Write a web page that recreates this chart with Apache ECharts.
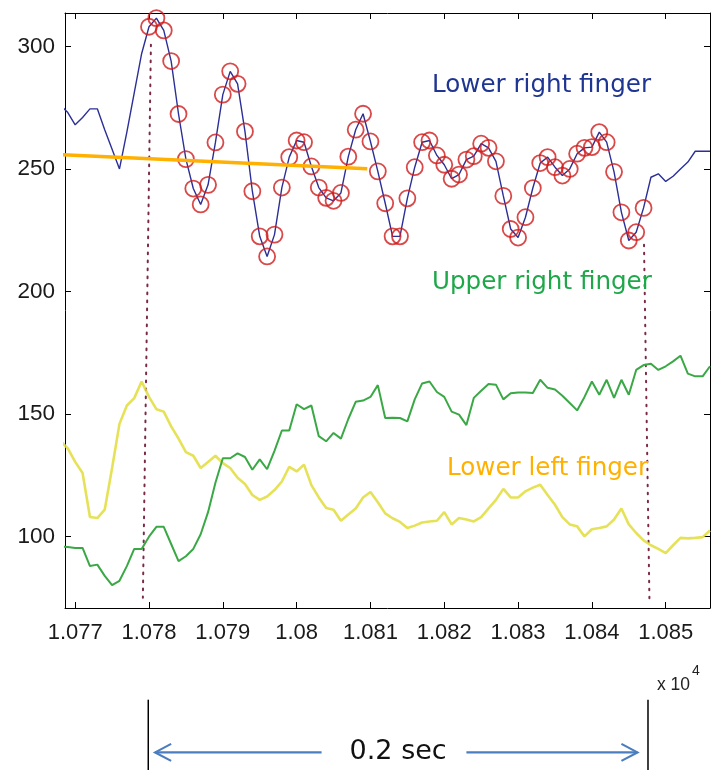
<!DOCTYPE html>
<html>
<head>
<meta charset="utf-8">
<script src="https://cdn.jsdelivr.net/npm/echarts@6/dist/echarts.min.js"></script>
<style>
  html, body { margin: 0; padding: 0; background: #ffffff; }
  #chart { width: 717px; height: 770px; }
</style>
</head>
<body>
<div id="chart"></div>
<script>
// Finger pressure traces, one sample per time step starting at sampleStart
const sampleStart = 10768;

const lowerRight = [276, 273, 268, 271, 274.5, 274.5, 266, 258, 250, 265, 281, 297,
  308, 311.5, 306.5, 294, 272.4, 254, 242, 235.5, 243.5, 260.8, 280.3, 289.8, 284.7,
  265.3, 240.9, 222.5, 214.3, 223.2, 242.4, 254.8, 261.6, 260.9, 251, 242.4, 238.2,
  237, 240.2, 255, 266, 272.5, 261.2, 249, 236, 222.5, 222.5, 238, 250.7, 260.9, 261.6,
  255.5, 251.7, 246, 247.7, 253.8, 255.2, 260.3, 258.6, 253.1, 239, 225.5, 222, 230.3,
  242.2, 252.4, 254.8, 250.7, 247.3, 250, 256.2, 258.6, 258.9, 265, 260.9, 248.8,
  232.3, 220.8, 224.2, 234.1, 246.6, 248, 244.9, 247, 250, 252.8, 257.2, 257.2, 257.2];

const upperRight = [96, 95.8, 95.4, 95.4, 88, 88.6, 84, 80.2, 82, 88, 95, 95, 100, 104,
  104, 97, 90, 92, 95, 101, 110, 122, 132, 132, 134, 132.5, 127.3, 131.5, 127.5, 135,
  143.3, 143.3, 154, 152, 153.5, 141, 138.9, 142.3, 140, 148, 155, 155.5, 157, 161.8,
  148.4, 148.5, 148.4, 147, 156, 162.5, 163.3, 159, 157, 151, 149.8, 145.5, 156.6,
  159.5, 162.3, 162, 156, 158.5, 158.8, 158.8, 158.6, 164, 160.7, 160, 157.5, 154.5,
  151.5, 157, 163.3, 157.9, 164, 156.6, 164, 157.9, 168, 170, 170.5, 168, 169.5, 171.5,
  173.8, 166.5, 165.4, 165.4, 169.5];

const lowerLeft = [139, 136, 130.5, 126, 108, 107.6, 111, 128, 146, 153.5, 156.5, 163.3,
  157, 152, 151, 145, 140, 134.5, 133, 128, 130.5, 133, 130, 128, 124, 121.5, 117, 115,
  116.4, 119, 122.5, 128.5, 126.6, 129.4, 121, 116, 111.7, 111, 106.5, 109, 111.5, 116,
  118.2, 114, 109.5, 107.5, 106, 103.5, 104.5, 105.8, 106.2, 106.5, 110, 105, 107.6,
  107, 106.2, 108, 111.5, 115, 119.5, 116, 116, 118.5, 120, 121.2, 117, 113, 108, 105,
  104.2, 100.1, 103, 103.5, 104.2, 107, 111.5, 105, 101.5, 98.5, 96.5, 95, 93.3, 96.5,
  99.5, 99.3, 99.5, 99.8, 102.5];

// Samples of the lower right finger that are ringed
const ringedFrom = 10780;
const ringedTo = 10847;

// Axis ranges and tick positions
const xRange = [10768.62, 10856];
const yRange = [70.9, 313.6];
const xTicks = [10770, 10780, 10790, 10800, 10810, 10820, 10830, 10840, 10850];
const yTicks = [100, 150, 200, 250, 300];

// Dotted window markers (start / end of the marked interval)
const windowStart = [[10780.26, 300.7], [10779.17, 75.1]];
const windowEnd = [[10847.06, 219.1], [10847.8, 73.1]];

// Trend line drawn across the lower right finger trace
const trendLine = [[10759.78, 257], [10809.57, 250.1]];

// Interval bracket below the axis: bracket x positions, bracket y span, arrow level
const bracketX = [10779.9, 10847.6];
const bracketY = [33.5, 4];
const arrowY = 12;
const arrowLeft = [10780.83, 10803.38];
const arrowRight = [10823.0, 10846.17];

const toPairs = (vals) => vals.map((v, i) => [sampleStart + i, v]);
const ringed = toPairs(lowerRight).filter(p => p[0] >= ringedFrom && p[0] <= ringedTo);

const tickFont = "'Liberation Sans', Arial, sans-serif";
const noteFont = "'DejaVu Sans', 'Noto Sans', sans-serif";

const chart = echarts.init(document.getElementById('chart'), null, { renderer: 'canvas' });

const axisLineStyle = { color: '#000', width: 1 };
const option = {
  animation: false,
  backgroundColor: '#ffffff',
  grid: { left: 65, top: 13, right: 7, bottom: 162 },
  xAxis: [
    {
      type: 'value', position: 'bottom', min: xRange[0], max: xRange[1],
      axisLine: { show: true, onZero: false, lineStyle: axisLineStyle },
      axisTick: { show: true, inside: true, length: 6, customValues: xTicks, lineStyle: axisLineStyle },
      axisLabel: {
        show: true, customValues: xTicks, margin: 14,
        formatter: v => String(+(v / 1e4).toFixed(4)),
        fontFamily: tickFont, fontSize: 22, color: '#1a1a1a'
      },
      splitLine: { show: false }
    },
    {
      type: 'value', position: 'top', min: xRange[0], max: xRange[1],
      axisLine: { show: true, onZero: false, lineStyle: axisLineStyle },
      axisTick: { show: true, inside: true, length: 6, customValues: xTicks, lineStyle: axisLineStyle },
      axisLabel: { show: false },
      splitLine: { show: false }
    }
  ],
  yAxis: [
    {
      type: 'value', position: 'left', min: yRange[0], max: yRange[1],
      axisLine: { show: true, onZero: false, lineStyle: axisLineStyle },
      axisTick: { show: true, inside: true, length: 6, customValues: yTicks, lineStyle: axisLineStyle },
      axisLabel: {
        show: true, customValues: yTicks, margin: 10,
        fontFamily: tickFont, fontSize: 22.5, color: '#1a1a1a'
      },
      splitLine: { show: false }
    },
    {
      type: 'value', position: 'right', min: yRange[0], max: yRange[1],
      axisLine: { show: true, onZero: false, lineStyle: axisLineStyle },
      axisTick: { show: true, inside: true, length: 6, customValues: yTicks, lineStyle: axisLineStyle },
      axisLabel: { show: false },
      splitLine: { show: false }
    }
  ],
  series: [
    {
      name: 'window start', type: 'line', data: windowStart, symbol: 'none',
      lineStyle: { color: '#7a2a44', width: 2, type: [1.6, 6.4], cap: 'round' }, z: 1, silent: true
    },
    {
      name: 'window end', type: 'line', data: windowEnd, symbol: 'none',
      lineStyle: { color: '#7a2a44', width: 2, type: [1.6, 6.4], cap: 'round' }, z: 1, silent: true
    },
    {
      name: 'Lower left finger', type: 'line', data: toPairs(lowerLeft), symbol: 'none',
      lineStyle: { color: '#e2dd3a', width: 2.6, opacity: 0.85 }, z: 2
    },
    {
      name: 'Upper right finger', type: 'line', data: toPairs(upperRight), symbol: 'none',
      lineStyle: { color: '#3aa845', width: 2 }, z: 3
    },
    {
      name: 'Lower right finger', type: 'line', data: toPairs(lowerRight), symbol: 'none',
      lineStyle: { color: '#2b2f96', width: 1.4 }, z: 4
    },
    {
      name: 'ringed samples', type: 'scatter', data: ringed, symbol: 'circle', symbolSize: 16,
      itemStyle: { color: 'rgba(0,0,0,0)', borderColor: '#cf1c1c', borderWidth: 1.8 }, z: 5,
      emphasis: { disabled: true }
    },
    {
      name: 'trend', type: 'line', data: trendLine, symbol: 'none', clip: false,
      lineStyle: { color: '#ffb000', width: 3.5 }, z: 6
    }
  ],
  graphic: [
    { type: 'text', left: 432, top: 73, z: 10,
      style: { text: 'Lower right finger', fill: '#1f3592', font: '24.6px ' + noteFont } },
    { type: 'text', left: 432, top: 270, z: 10,
      style: { text: 'Upper right finger', fill: '#1fa84a', font: '24.6px ' + noteFont } },
    { type: 'text', left: 447, top: 456, z: 10,
      style: { text: 'Lower left finger', fill: '#ffb000', font: '24.6px ' + noteFont } }
  ]
};
chart.setOption(option);

// Bracket, arrows and unit note placed from axis coordinates
const px = (x, y) => chart.convertToPixel({ xAxisIndex: 0, yAxisIndex: 0 }, [x, y]);
const extra = [];
bracketX.forEach(bx => {
  const a = px(bx, bracketY[0]), b = px(bx, bracketY[1]);
  extra.push({ type: 'line', shape: { x1: a[0], y1: a[1], x2: b[0], y2: b[1] },
    style: { stroke: '#000', lineWidth: 1.5 }, z: 10 });
});
const arrowColor = '#4a7ebf';
const la = px(arrowLeft[0], arrowY), lb = px(arrowLeft[1], arrowY);
const ra = px(arrowRight[0], arrowY), rb = px(arrowRight[1], arrowY);
extra.push({ type: 'line', shape: { x1: la[0], y1: la[1], x2: lb[0], y2: lb[1] },
  style: { stroke: arrowColor, lineWidth: 2.2 }, z: 10 });
extra.push({ type: 'polyline', shape: { points: [[la[0] + 16, la[1] - 8.5], [la[0], la[1]], [la[0] + 16, la[1] + 8.5]] },
  style: { stroke: arrowColor, lineWidth: 2.2, fill: null }, z: 10 });
extra.push({ type: 'line', shape: { x1: ra[0], y1: ra[1], x2: rb[0], y2: rb[1] },
  style: { stroke: arrowColor, lineWidth: 2.2 }, z: 10 });
extra.push({ type: 'polyline', shape: { points: [[rb[0] - 16, rb[1] - 8.5], [rb[0], rb[1]], [rb[0] - 16, rb[1] + 8.5]] },
  style: { stroke: arrowColor, lineWidth: 2.2, fill: null }, z: 10 });
const mid = px((bracketX[0] + bracketX[1]) / 2, arrowY);
extra.push({ type: 'text', x: mid[0], y: mid[1], z: 10,
  style: { text: '0.2 sec', fill: '#111', font: '27px ' + noteFont, align: 'center', verticalAlign: 'middle' } });
extra.push({ type: 'text', x: 657, y: 685, z: 10,
  style: { text: 'x 10', fill: '#222', font: '17.5px ' + tickFont, verticalAlign: 'middle' } });
extra.push({ type: 'text', x: 692, y: 671, z: 10,
  style: { text: '4', fill: '#222', font: '14px ' + tickFont, verticalAlign: 'middle' } });

chart.setOption({ graphic: option.graphic.concat(extra) });
</script>
</body>
</html>
